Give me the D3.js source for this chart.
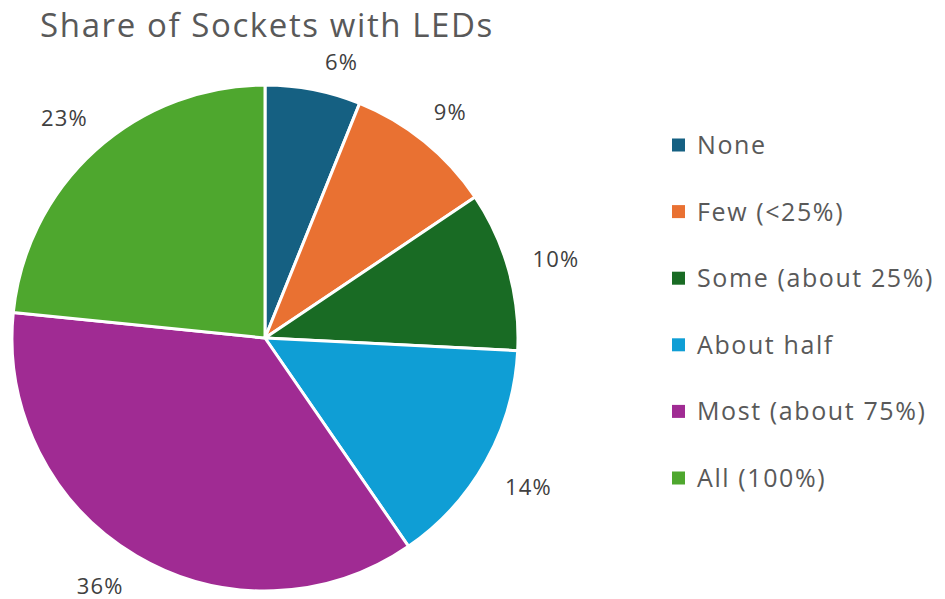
<!DOCTYPE html>
<html><head><meta charset="utf-8">
<script src="https://cdn.jsdelivr.net/npm/d3@7"></script>
<style>html,body{margin:0;padding:0;background:#fff;}svg{display:block;}</style>
</head><body>
<svg id="chart" width="945" height="599"></svg>
<script>
const categories = ["None","Few (<25%)","Some (about 25%)","About half","Most (about 75%)","All (100%)"];
const values = [6.1, 9.5, 10.2, 14.6, 36.2, 23.4];
const labels = ["6%","9%","10%","14%","36%","23%"];
const colors = ["#156082","#E97132","#196B24","#0F9ED5","#A02B93","#4EA72E"];
const title = "Share of Sockets with LEDs";

const font = "'Open Sans', sans-serif";
const W = 945, H = 599;
const svg = d3.select("#chart");
const cx = 265, cy = 338, R = 253;

svg.append("text").attr("x", 267).attr("y", 37).attr("text-anchor","middle")
  .attr("font-family", font).attr("font-size", 33).attr("letter-spacing", 1.6)
  .attr("fill","#595959").text(title);

const pie = d3.pie().sort(null).value(d => d)(values);
const arc = d3.arc().innerRadius(0).outerRadius(R);
const g = svg.append("g").attr("transform", `translate(${cx},${cy})`);
g.selectAll("path").data(pie).join("path")
  .attr("d", arc).attr("fill", (d,i) => colors[i])
  .attr("stroke","#fff").attr("stroke-width",3).attr("stroke-linejoin","round");

const lblSize = 22;
const yMin = 60 - cy, yMax = (H - 15) - cy;
g.selectAll("text.lbl").data(pie).join("text").attr("class","lbl")
  .attr("font-family", font).attr("font-size", lblSize).attr("letter-spacing", 1.2)
  .attr("fill","#404040")
  .attr("text-anchor","middle").attr("dominant-baseline","central")
  .text((d,i) => labels[i])
  .each(function(d){
    const a = (d.startAngle + d.endAngle)/2;
    const bb = this.getBBox();
    const hw = bb.width/2, hh = lblSize*0.38;
    const r = R + 24 + Math.abs(hw*Math.sin(a)) + Math.abs(hh*Math.cos(a));
    let x = r*Math.sin(a), y = -r*Math.cos(a);
    if (y < yMin || y > yMax) {
      y = Math.max(yMin, Math.min(yMax, y));
      x = Math.sign(x) * Math.sqrt(Math.max(0, r*r - y*y));
    }
    d3.select(this).attr("x", x).attr("y", y + 1);
  });

const leg = svg.append("g");
const rows = leg.selectAll("g").data(categories).join("g")
  .attr("transform", (d,i) => `translate(672,${145 + i*66.6})`);
rows.append("rect").attr("x",0).attr("y",-6.5).attr("width",13).attr("height",13)
  .attr("fill",(d,i)=>colors[i]);
rows.append("text").attr("x",25).attr("y",-1).attr("dominant-baseline","central")
  .attr("font-family", font).attr("font-size", 25).attr("letter-spacing", 1.6)
  .attr("fill","#595959").text(d=>d);
</script>
</body></html>
